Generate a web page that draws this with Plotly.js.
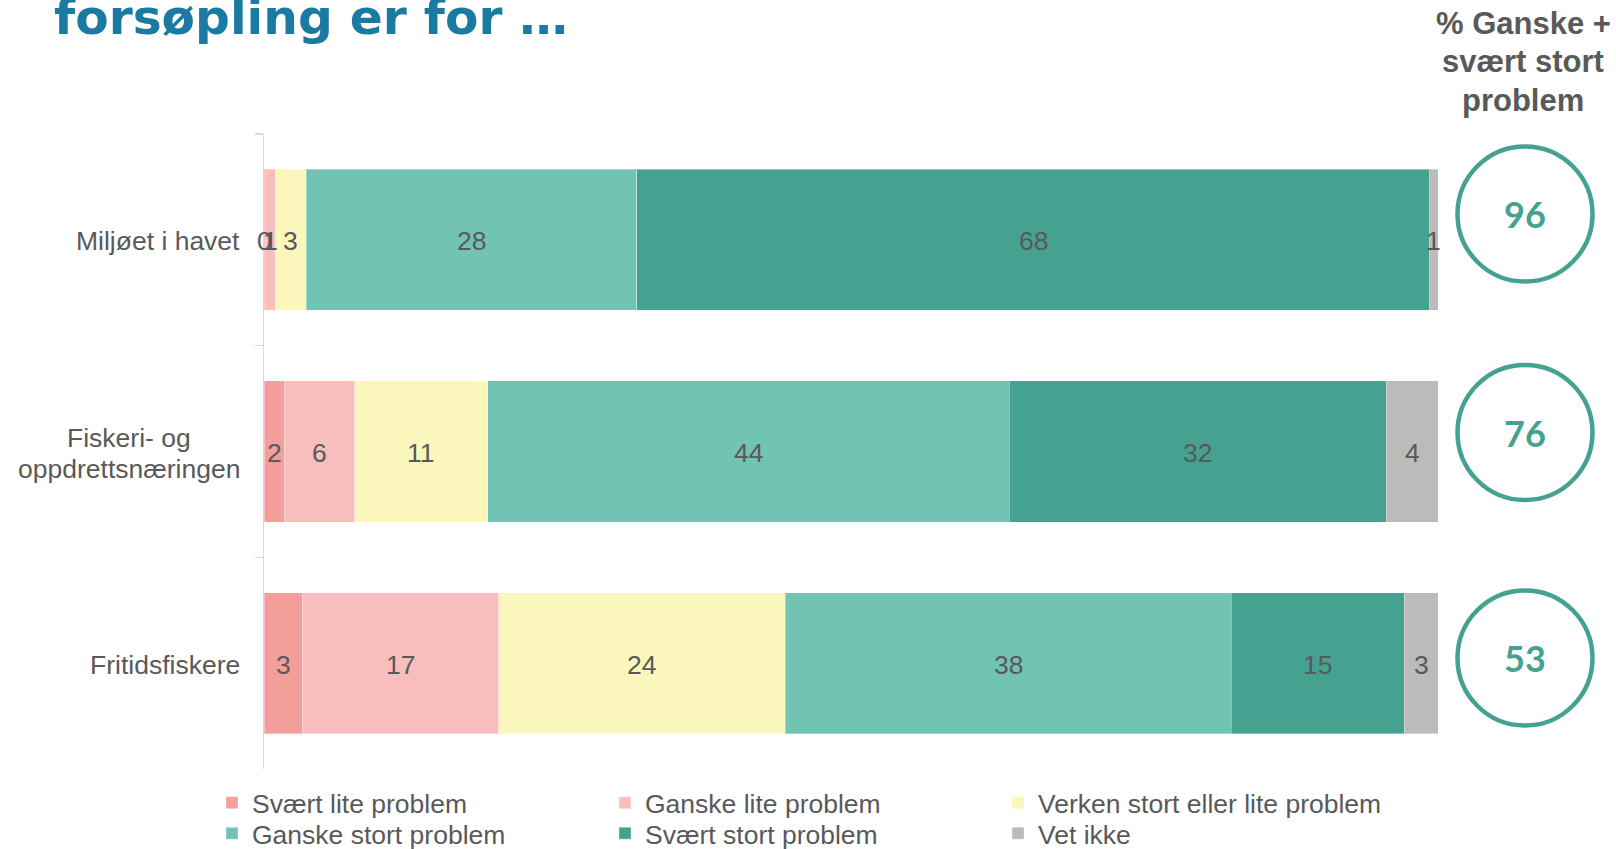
<!DOCTYPE html>
<html><head><meta charset="utf-8">
<script src="https://cdn.plot.ly/plotly-3.0.1.min.js"></script>
<style>html,body{margin:0;padding:0;background:#fff;overflow:hidden;} #chart{width:1616px;height:849px;}</style>
</head><body><div id="chart"></div>
<script>
// ---- data ----
const categories = ['Miljøet i havet', 'Fiskeri- og<br>oppdrettsnæringen', 'Fritidsfiskere'];
const seriesNames = ['Svært lite problem', 'Ganske lite problem', 'Verken stort eller lite problem',
                     'Ganske stort problem', 'Svært stort problem', 'Vet ikke'];
const svaertLite  = [0.1, 1.74, 3.25];
const ganskeLite  = [0.85, 5.98, 16.73];
const verken      = [2.64, 11.32, 24.43];
const ganskeStort = [28.17, 44.45, 37.97];
const svaertStort = [67.52, 32.1, 14.74];
const vetIkke     = [0.72, 4.41, 2.88];
const pctStort    = [96, 76, 53];
const titleText   = 'forsøpling er for …';
const headerLines = ['% Ganske +', 'svært stort', 'problem'];

// ---- styles ----
const colors = ['#F49E9B', '#F8BEBD', '#FBF6BB', '#71C3B4', '#45A290', '#BBBCB9'];
const textColor = '#595959';
const baseFont = 'Liberation Sans, Arial, sans-serif';
const fs = 26.5;

const series = [svaertLite, ganskeLite, verken, ganskeStort, svaertStort, vetIkke];
const traces = series.map((vals, i) => ({
  type: 'bar', orientation: 'h', name: seriesNames[i],
  y: categories, x: vals,
  legend: i < 3 ? 'legend' : 'legend2',
  marker: {color: colors[i], line: {color: 'rgba(255,255,255,0.35)', width: 1}},
  textposition: 'none', hoverinfo: 'skip'
}));

const L = 264, R = 178, T = 134, B = 80, W = 1616, H = 849;
const pw = W - L - R, ph = H - T - B;
const px2x = (px) => (px - L) / pw;
const py2y = (py) => (H - B - py) / ph;

const annotations = [];

// value labels, centred in each stacked segment (drawn above all bars)
const cum = categories.map(() => 0);
series.forEach((vals) => {
  vals.forEach((v, k) => {
    const mid = cum[k] + v / 2; cum[k] += v;
    annotations.push({
      text: Math.round(v).toString(), xref: 'x', yref: 'y', x: mid, y: categories[k],
      xanchor: 'center', yanchor: 'middle', yshift: -1.5, showarrow: false,
      font: {family: baseFont, size: fs, color: textColor}
    });
  });
});

// category labels (lines placed individually to match line spacing, centred on each other)
categories.forEach((c) => {
  const lines = c.split('<br>');
  const n = lines.length, lh = 31;
  lines.forEach((ln, j) => annotations.push({
    text: ln, xref: 'paper', yref: 'y', x: 0, y: c,
    xanchor: n > 1 ? 'center' : 'right', xshift: n > 1 ? -135 : -22,
    yanchor: 'middle', yshift: ((n - 1) / 2 - j) * lh - 1.5, showarrow: false,
    font: {family: baseFont, size: fs, color: textColor}
  }));
});

// title (cut off at top, as in reference)
annotations.push({
  text: '<b>' + titleText + '</b>', xref: 'paper', yref: 'paper', x: px2x(52), y: py2y(47),
  xanchor: 'left', yanchor: 'bottom', showarrow: false,
  font: {family: 'DejaVu Sans, sans-serif', size: 48.7, color: '#1B7AA1'}
});
// right column header, one line at a time
const headerY = [23, 62, 100.5];
headerLines.forEach((ln, j) => annotations.push({
  text: '<b>' + ln + '</b>', xref: 'paper', yref: 'paper', x: px2x(1523), y: py2y(headerY[j]),
  xanchor: 'center', yanchor: 'middle', showarrow: false,
  font: {family: baseFont, size: 31, color: textColor}
}));

// circled totals
const circleY = [214, 432.5, 658];
const shapes = [];
pctStort.forEach((v, i) => {
  shapes.push({
    type: 'circle', xref: 'paper', yref: 'paper', xsizemode: 'pixel', ysizemode: 'pixel',
    xanchor: px2x(1525), yanchor: py2y(circleY[i]), x0: -67.5, x1: 67.5, y0: -67.5, y1: 67.5,
    line: {color: '#45A290', width: 4.5}, fillcolor: 'rgba(0,0,0,0)'
  });
  annotations.push({
    text: '<b>' + v + '</b>', xref: 'paper', yref: 'paper', x: px2x(1525), y: py2y(circleY[i]),
    xanchor: 'center', yanchor: 'middle', showarrow: false,
    font: {family: 'Lato, sans-serif', size: 36, color: '#45A290'}
  });
});

const legendBase = {
  orientation: 'h', x: px2x(212), xanchor: 'left', yanchor: 'middle',
  font: {family: baseFont, size: fs, color: textColor},
  entrywidth: 348, entrywidthmode: 'pixels', itemwidth: 30, traceorder: 'normal',
  bgcolor: 'rgba(0,0,0,0)', borderwidth: 0
};

const layout = {
  width: W, height: H,
  margin: {l: L, r: R, t: T, b: B, pad: 0, autoexpand: false},
  paper_bgcolor: '#ffffff', plot_bgcolor: '#ffffff',
  barmode: 'stack', bargap: 0.333,
  showlegend: true,
  legend: Object.assign({}, legendBase, {y: py2y(803)}),
  legend2: Object.assign({}, legendBase, {y: py2y(833.5)}),
  xaxis: {range: [0, 100], visible: false, fixedrange: true},
  yaxis: {
    type: 'category', autorange: 'reversed', showline: true, linecolor: '#D9D9D9', linewidth: 1.5,
    ticks: 'outside', tickson: 'boundaries', ticklen: 8, tickcolor: '#D9D9D9', tickwidth: 1.5,
    showticklabels: false, showgrid: false, zeroline: false, fixedrange: true
  },
  annotations: annotations,
  shapes: shapes
};

Plotly.newPlot('chart', traces, layout, {staticPlot: true, displayModeBar: false});
</script>
</body></html>
